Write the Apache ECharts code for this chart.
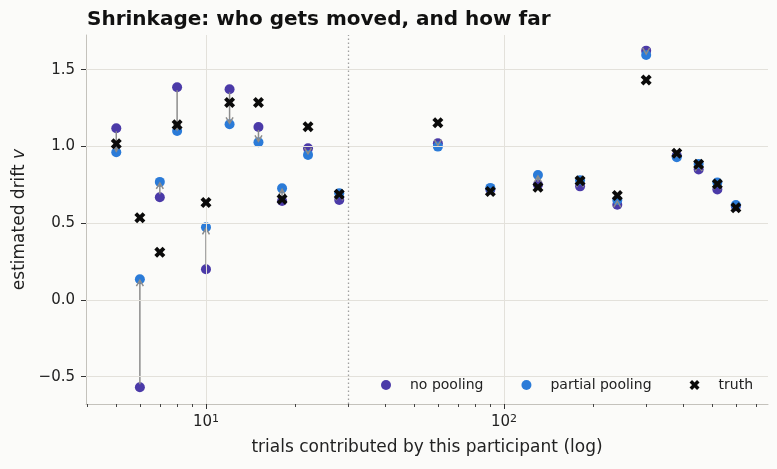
<!DOCTYPE html>
<html>
<head>
<meta charset="utf-8">
<script src="https://cdn.jsdelivr.net/npm/echarts@6/dist/echarts.min.js"></script>
<style>
  html, body { margin: 0; padding: 0; background: #fbfbf9; }
  #chart { width: 777px; height: 469px; }
</style>
</head>
<body>
<div id="chart"></div>
<script>
// trials per participant and the three estimates of drift v
var trials = [5, 6, 7, 8, 10, 12, 15, 18, 22, 28, 60, 90, 130, 180, 240, 300, 380, 450, 520, 600];
var noPooling = [1.118, -0.569, 0.669, 1.386, 0.200, 1.372, 1.127, 0.645, 0.988, 0.651, 1.021, 0.72, 0.75, 0.74, 0.62, 1.624, 0.94, 0.85, 0.72, 0.61];
var partialPooling = [0.962, 0.135, 0.769, 1.101, 0.473, 1.144, 1.027, 0.727, 0.945, 0.695, 0.999, 0.73, 0.814, 0.78, 0.651, 1.596, 0.93, 0.885, 0.765, 0.619];
var truth = [1.018, 0.536, 0.311, 1.142, 0.634, 1.286, 1.286, 0.656, 1.129, 0.688, 1.155, 0.706, 0.734, 0.777, 0.68, 1.433, 0.955, 0.884, 0.756, 0.601];

var yTicks = [-0.5, 0, 0.5, 1.0, 1.5];
var xMajor = [10, 100];
var xMinor = [4, 5, 6, 7, 8, 9, 20, 30, 40, 50, 60, 70, 80, 90, 200, 300, 400, 500, 600, 700];
var splitAt = 30;

var FONT = 'DejaVu Sans';
var xMin = 3.957, xMax = 769;

function zip(ys) {
    return trials.map(function(n, i){ return [n, ys[i]]; });
}

var xMark = 'path://M2.5,0 L5,2.5 L7.5,0 L10,2.5 L7.5,5 L10,7.5 L7.5,10 L5,7.5 L2.5,10 L0,7.5 L2.5,5 L0,2.5 Z';

function renderArrow(params, api) {
    var p0 = api.coord([api.value(0), api.value(1)]);
    var p1 = api.coord([api.value(0), api.value(2)]);
    var dx = p1[0] - p0[0], dy = p1[1] - p0[1];
    var len = Math.sqrt(dx * dx + dy * dy) || 1;
    var ux = dx / len, uy = dy / len;
    var start = [p0[0] + ux * 3, p0[1] + uy * 3];
    var tip = [p1[0] - ux * 1, p1[1] - uy * 1];
    var hl = 6, hw = 3.5;
    var back = [tip[0] - ux * hl, tip[1] - uy * hl];
    var style = { stroke: '#8c8c8c', lineWidth: 1.5, fill: null };
    var children = [];
    if (len > 4) {
        children.push({ type: 'line', shape: { x1: start[0], y1: start[1], x2: tip[0], y2: tip[1] }, style: style });
    }
    children.push({
        type: 'polyline',
        shape: { points: [
            [back[0] - uy * hw, back[1] + ux * hw],
            tip,
            [back[0] + uy * hw, back[1] - ux * hw]
        ] },
        style: style
    });
    return { type: 'group', children: children };
}

var gridLines = xMajor.map(function(v){
    return { xAxis: v, lineStyle: { color: '#e3e1db', width: 1, type: 'solid' } };
}).concat(yTicks.map(function(v){
    return { yAxis: v, lineStyle: { color: '#e3e1db', width: 1, type: 'solid' } };
})).concat([
    { xAxis: splitAt, lineStyle: { color: '#a0a0a0', width: 1.3, type: [1.5, 2.5] } }
]);

var option = {
    backgroundColor: '#fbfbf9',
    animation: false,
    textStyle: { fontFamily: FONT },
    title: {
        text: 'Shrinkage: who gets moved, and how far',
        left: 82,
        top: 5,
        textStyle: { fontFamily: FONT, fontSize: 20, fontWeight: 'bold', color: '#111' }
    },
    legend: {
        left: 376,
        top: 373,
        itemWidth: 38,
        itemHeight: 10,
        itemGap: 38,
        textStyle: { fontFamily: FONT, fontSize: 14, color: '#222' },
        data: ['no pooling', 'partial pooling', 'truth']
    },
    grid: [
        { left: 86, right: 9, top: 35, bottom: 65 },
        { left: 86, right: 9, top: 35, bottom: 65 }
    ],
    xAxis: [{
        type: 'log',
        gridIndex: 0,
        min: xMin,
        max: xMax,
        name: 'trials contributed by this participant (log)',
        nameLocation: 'middle',
        nameGap: 35,
        nameTextStyle: { fontFamily: FONT, fontSize: 17, color: '#222' },
        axisLine: { onZero: false, lineStyle: { color: '#c4c2bc', width: 1 } },
        axisTick: { customValues: xMajor, length: 5, lineStyle: { color: '#333' } },
        axisLabel: {
            customValues: xMajor,
            margin: 10,
            formatter: function(v){ return '{b|10}{s|' + Math.round(Math.log10(v)) + '}'; },
            rich: {
                b: { fontFamily: FONT, fontSize: 15, color: '#222' },
                s: { fontFamily: FONT, fontSize: 11, color: '#222', verticalAlign: 'top', padding: [0, 0, 6, 0] }
            }
        },
        splitLine: { show: false }
    }, {
        type: 'log',
        gridIndex: 1,
        min: xMin,
        max: xMax,
        axisLine: { show: false, onZero: false },
        axisTick: { customValues: xMinor, length: 3, lineStyle: { color: '#444' } },
        axisLabel: { show: false },
        splitLine: { show: false }
    }],
    yAxis: [{
        type: 'value',
        gridIndex: 0,
        min: -0.678,
        max: 1.726,
        name: '{n|estimated drift }{i|v}',
        nameLocation: 'middle',
        nameGap: 57,
        nameTextStyle: {
            rich: {
                n: { fontFamily: FONT, fontSize: 17, color: '#222' },
                i: { fontFamily: FONT, fontSize: 17, color: '#222', fontStyle: 'italic' }
            }
        },
        axisLine: { show: true, onZero: false, lineStyle: { color: '#c4c2bc', width: 1 } },
        axisTick: { show: true, customValues: yTicks, length: 5, lineStyle: { color: '#333' } },
        axisLabel: {
            customValues: yTicks,
            margin: 11,
            fontFamily: FONT,
            fontSize: 15,
            color: '#222',
            formatter: function(v){ return (v < 0 ? '\u2212' + Math.abs(v).toFixed(1) : v.toFixed(1)); }
        },
        splitLine: { show: false }
    }, {
        type: 'value',
        gridIndex: 1,
        min: -0.678,
        max: 1.726,
        show: false
    }],
    series: [{
        type: 'line',
        data: [],
        z: 1,
        silent: true,
        markLine: {
            silent: true,
            symbol: ['none', 'none'],
            label: { show: false },
            data: gridLines
        }
    }, {
        name: 'no pooling',
        type: 'scatter',
        data: zip(noPooling),
        symbol: 'circle',
        symbolSize: 10,
        itemStyle: { color: '#4b3aa8', opacity: 1 },
        z: 2
    }, {
        name: 'partial pooling',
        type: 'scatter',
        data: zip(partialPooling),
        symbol: 'circle',
        symbolSize: 10,
        itemStyle: { color: '#2b7bd8', opacity: 1 },
        z: 3
    }, {
        type: 'custom',
        renderItem: renderArrow,
        data: trials.map(function(n, i){ return [n, noPooling[i], partialPooling[i]]; }),
        encode: { x: 0, y: [1, 2] },
        silent: true,
        z: 4
    }, {
        name: 'truth',
        type: 'scatter',
        data: zip(truth),
        symbol: xMark,
        symbolSize: 11,
        itemStyle: { color: '#0a0a0a', opacity: 1 },
        z: 5
    }]
};

var myChart = echarts.init(document.getElementById('chart'));
myChart.setOption(option);
</script>
</body>
</html>
